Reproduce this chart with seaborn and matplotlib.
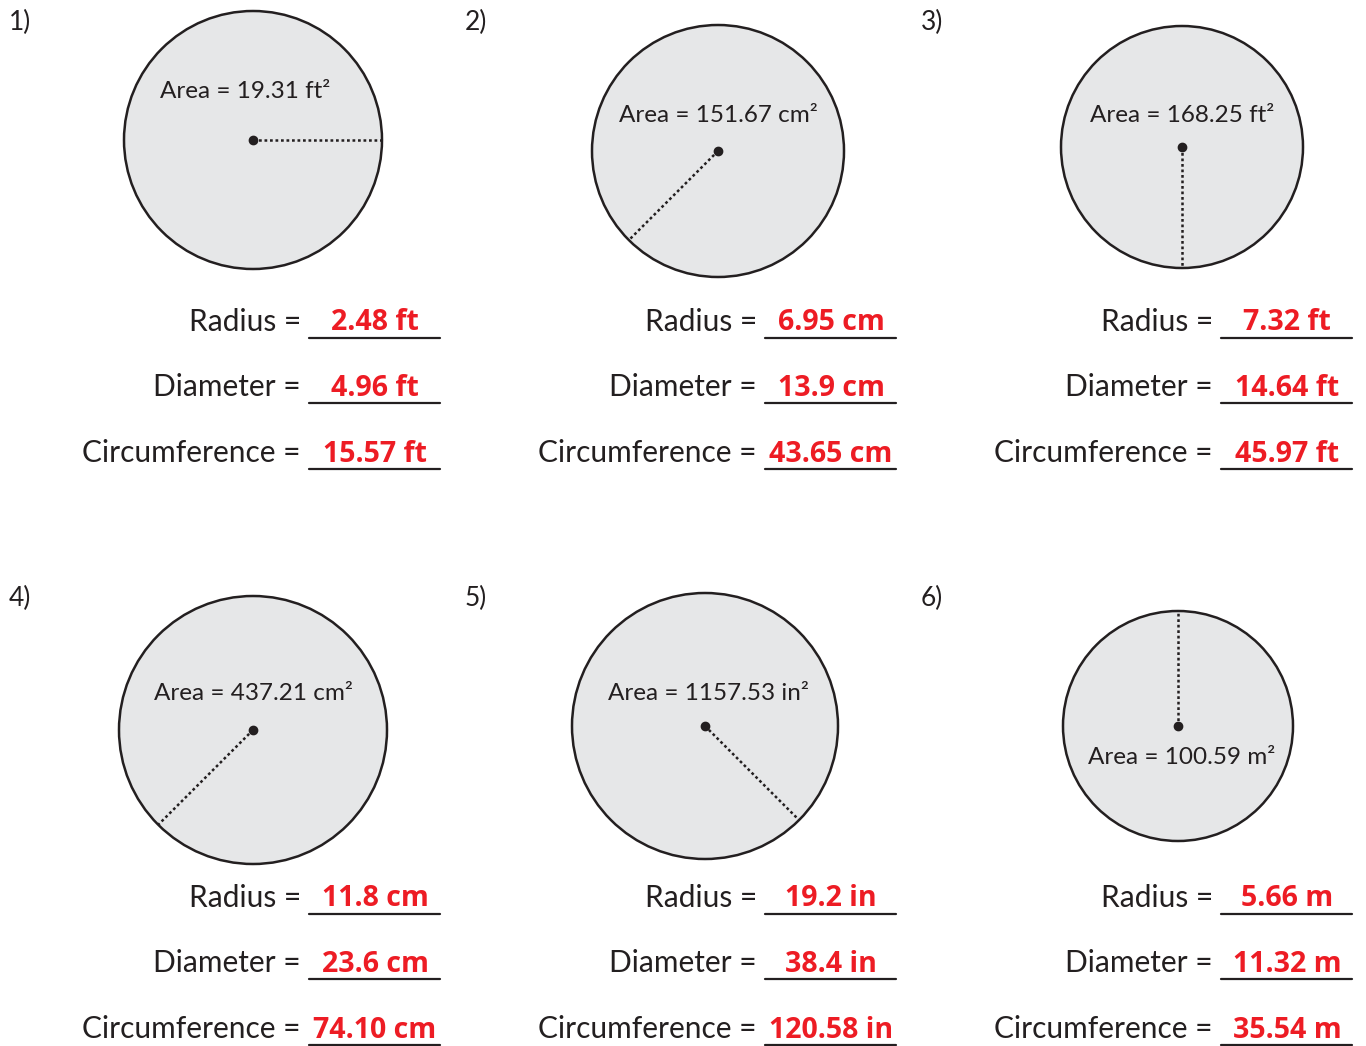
import matplotlib.pyplot as plt
import seaborn as sns
import numpy as np
from matplotlib.patches import Circle

sns.set_theme(style='white')
plt.rcParams['font.family'] = ['Lato', 'DejaVu Sans']

# problem data
numbers = ['1)', '2)', '3)', '4)', '5)', '6)']
areas = ['19.31 ft²', '151.67 cm²', '168.25 ft²', '437.21 cm²', '1157.53 in²', '100.59 m²']
radius_ans = ['2.48 ft', '6.95 cm', '7.32 ft', '11.8 cm', '19.2 in', '5.66 m']
diameter_ans = ['4.96 ft', '13.9 cm', '14.64 ft', '23.6 cm', '38.4 in', '11.32 m']
circum_ans = ['15.57 ft', '43.65 cm', '45.97 ft', '74.10 cm', '120.58 in', '35.54 m']
radius_angle = [0, 225, 270, 225, 315, 90]   # direction of the dotted radius, degrees

# layout (pixels, y downwards)
circle_xy = [(253, 140), (718, 151), (1182, 147), (253, 730), (705, 726), (1178, 726)]
circle_r = [129, 126, 121, 134, 133, 115]
area_xy = [(245, 92), (718, 116), (1182, 116), (253, 693), (708, 693), (1182, 757)]
col_x = [0, 456, 912]
row_y = [0, 576]

fill = '#e6e7e8'
ink = '#231f20'
red = '#ed1c24'

fig = plt.figure(figsize=(13.66, 10.46), dpi=100)
ax = fig.add_axes([0, 0, 1, 1])
ax.set_xlim(0, 1366)
ax.set_ylim(1046, 0)
ax.set_aspect('equal')
ax.axis('off')

for i in range(6):
    ox = col_x[i % 3]
    oy = row_y[i // 3]
    ax.text(ox + 9, oy + 22, numbers[i], fontsize=19, color=ink, va='center', ha='left')

    cx, cy = circle_xy[i]
    r = circle_r[i]
    ax.add_patch(Circle((cx, cy), r, facecolor=fill, edgecolor=ink, lw=1.8, zorder=1))
    a = np.deg2rad(radius_angle[i])
    ax.plot([cx, cx + r * np.cos(a)], [cy, cy - r * np.sin(a)],
            color=ink, lw=1.8, linestyle=(0, (1.1, 1.1)), zorder=2)
    ax.plot(cx, cy, 'o', color=ink, ms=6, zorder=3)
    axx, axy = area_xy[i]
    ax.text(axx, axy, 'Area = ' + areas[i], fontsize=17.5, color=ink,
            ha='center', va='center', zorder=4)

    rows = [('Radius =', radius_ans[i], 322),
            ('Diameter =', diameter_ans[i], 387),
            ('Circumference =', circum_ans[i], 453)]
    for label, val, y in rows:
        yy = oy + y
        ax.text(ox + 301, yy, label, fontsize=21.5, color=ink, ha='right', va='center')
        ax.plot([ox + 309, ox + 440], [yy + 16, yy + 16], color=ink, lw=1.6)
        ax.text(ox + 375, yy + 1, val, fontsize=20.5, color=red, fontweight='bold',
                family=['Open Sans', 'DejaVu Sans'], ha='center', va='center')

fig.savefig('out.png', dpi=100)
